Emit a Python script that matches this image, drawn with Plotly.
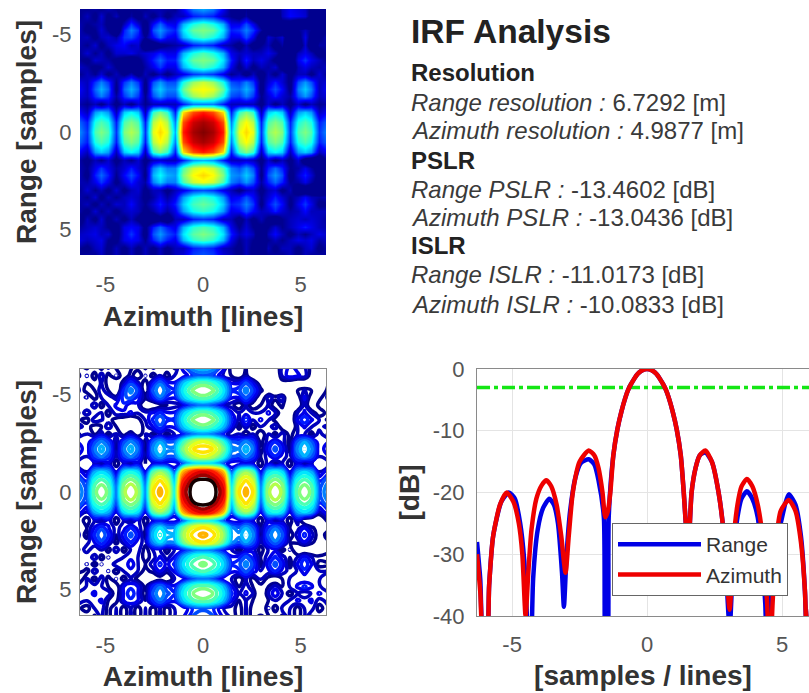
import plotly.graph_objects as go

W, H = 809, 693

nodes = [-6.5,-5.95,-5.55,-5.2,-4.85,-4.45,-4.05,-3.7,-3.35,-2.95,-2.55,-2.2,-1.85,-1.45,-1.0,-0.5,0,
         0.5,1.0,1.45,1.85,2.2,2.55,2.95,3.35,3.7,4.05,4.45,4.85,5.2,5.55,5.95,6.5]

irf_db = [
[-39,-41,-38,-42,-37,-41,-44,-41,-38,-41,-37,-39,-38,-41,-34,-28,-26,-28,-34,-41,-44,-40,-44,-46,-45,-43,-38,-36,-37,-38,-41,-44,-40],
[-41,-38,-41,-37,-41,-38,-42,-39,-42,-38,-41,-38,-41,-38,-38,-34,-33,-34,-38,-40,-42,-39,-44,-46,-46,-45,-38,-35,-36,-37,-42,-45,-41],
[-38,-40,-39,-38,-41,-44,-38,-33,-37,-42,-35,-31,-35,-36,-28,-24,-22,-24,-28,-36,-36,-32,-36,-42,-45,-46,-42,-44,-46,-45,-44,-46,-39],
[-37,-41,-40,-37,-40,-46,-34,-30,-33,-44,-32,-29,-32,-34,-26,-21,-20,-21,-26,-34,-33,-30,-33,-39,-44,-46,-46,-46,-40,-38,-40,-44,-38],
[-39,-38,-41,-38,-37,-39,-33,-32,-35,-40,-35,-31,-35,-36,-28,-24,-22,-24,-28,-36,-36,-32,-36,-44,-37,-39,-37,-46,-42,-36,-42,-41,-37],
[-38,-40,-37,-41,-38,-36,-35,-38,-37,-45,-44,-42,-40,-39,-38,-34,-33,-34,-38,-39,-42,-38,-42,-40,-38,-42,-39,-46,-44,-37,-44,-39,-39],
[-41,-37,-40,-38,-41,-37,-37,-36,-38,-37,-36,-34,-36,-36,-28,-24,-22,-24,-28,-36,-38,-37,-38,-38,-36,-38,-42,-44,-38,-36,-38,-42,-38],
[-39,-41,-37,-38,-39,-41,-42,-45,-41,-38,-34,-31,-34,-34,-26,-21,-20,-21,-26,-34,-39,-34,-38,-36,-38,-41,-42,-45,-36,-33,-36,-38,-41],
[-37,-39,-41,-40,-37,-40,-42,-44,-42,-39,-36,-33,-36,-36,-28,-24,-22,-24,-28,-36,-41,-37,-41,-38,-39,-37,-42,-45,-38,-36,-38,-39,-37],
[-41,-38,-40,-37,-41,-38,-41,-38,-42,-38,-41,-38,-41,-38,-36,-33,-32,-33,-36,-40,-38,-42,-38,-42,-38,-41,-37,-41,-38,-38,-41,-37,-41],
[-36,-38,-33,-30,-33,-40,-33,-30,-33,-41,-32,-29,-32,-32,-24,-19,-17,-19,-24,-32,-33,-30,-33,-41,-37,-34,-37,-41,-32,-29,-32,-38,-36],
[-34,-38,-31,-28,-31,-41,-31,-28,-31,-42,-30,-27,-30,-30,-21,-16,-15,-16,-21,-30,-31,-28,-31,-42,-35,-32,-35,-41,-30,-27,-30,-38,-34],
[-36,-38,-33,-30,-33,-39,-33,-30,-33,-40,-32,-29,-32,-32,-24,-19,-17,-19,-24,-32,-33,-30,-33,-40,-37,-34,-37,-39,-32,-29,-32,-38,-36],
[-38,-40,-38,-41,-37,-41,-38,-41,-37,-40,-38,-38,-38,-38,-34,-30,-30,-30,-34,-38,-38,-38,-38,-41,-37,-41,-38,-41,-37,-41,-38,-40,-38],
[-34,-38,-29,-27,-29,-38,-27,-25,-27,-38,-23,-20,-23,-34,-14,-8,-6,-8,-14,-34,-23,-20,-23,-38,-27,-25,-27,-38,-29,-27,-29,-38,-34],
[-30,-34,-24,-22,-24,-34,-22,-20,-22,-34,-18,-15,-18,-30,-8,-3,-1.5,-3,-8,-30,-18,-15,-18,-34,-22,-20,-22,-34,-24,-22,-24,-34,-30],
[-28,-33,-22,-20,-22,-33,-20,-18,-20,-33,-16,-13.5,-16,-28,-6,-1.5,0,-1.5,-6,-28,-16,-13.5,-16,-33,-20,-18,-20,-33,-22,-20,-22,-33,-28],
[-30,-34,-24,-22,-24,-34,-22,-20,-22,-34,-18,-15,-18,-30,-8,-3,-1.5,-3,-8,-30,-18,-15,-18,-34,-22,-20,-22,-34,-24,-22,-24,-34,-30],
[-34,-38,-29,-27,-29,-38,-27,-25,-27,-38,-23,-20,-23,-34,-14,-8,-6,-8,-14,-34,-23,-20,-23,-38,-27,-25,-27,-38,-29,-27,-29,-38,-34],
[-38,-41,-38,-40,-37,-41,-38,-40,-37,-41,-38,-37,-38,-38,-34,-29,-28,-29,-34,-38,-38,-37,-38,-41,-37,-41,-38,-41,-37,-44,-45,-44,-38],
[-38,-40,-36,-33,-36,-39,-37,-34,-37,-40,-30,-27,-30,-30,-22,-17,-15.5,-17,-22,-30,-32,-29,-32,-40,-34,-31,-34,-40,-39,-36,-39,-42,-40],
[-37,-41,-34,-31,-34,-40,-35,-32,-35,-41,-28,-25,-28,-29,-20,-15,-13.5,-15,-20,-29,-30,-27,-30,-41,-32,-29,-32,-42,-37,-34,-37,-42,-38],
[-38,-39,-36,-33,-36,-41,-37,-34,-37,-39,-30,-27,-30,-30,-22,-17,-15.5,-17,-22,-30,-32,-29,-32,-39,-34,-31,-34,-40,-39,-36,-39,-42,-40],
[-41,-37,-40,-38,-41,-37,-41,-38,-37,-41,-38,-38,-41,-38,-36,-33,-32,-33,-36,-38,-41,-38,-37,-41,-38,-37,-41,-38,-44,-45,-44,-44,-41],
[-38,-40,-37,-41,-38,-40,-38,-37,-38,-41,-39,-36,-39,-36,-29,-24.5,-23,-24.5,-29,-36,-35,-32,-35,-40,-37,-34,-37,-40,-38,-35,-38,-39,-38],
[-40,-38,-41,-38,-40,-37,-38,-35,-38,-40,-37,-34,-37,-34,-27,-22.5,-21,-22.5,-27,-34,-33,-30,-33,-41,-35,-32,-35,-41,-36,-33,-36,-41,-40],
[-38,-41,-37,-40,-38,-41,-38,-37,-38,-41,-39,-36,-39,-36,-29,-24.5,-23,-24.5,-29,-36,-35,-32,-35,-38,-37,-34,-37,-39,-38,-35,-38,-38,-38],
[-44,-38,-41,-37,-41,-38,-41,-38,-41,-44,-44,-42,-44,-38,-38,-34,-33,-34,-38,-38,-42,-38,-41,-38,-41,-44,-40,-38,-37,-38,-37,-38,-40],
[-40,-38,-37,-38,-40,-42,-36,-35,-36,-41,-34,-31,-34,-36,-28,-23.5,-22,-23.5,-28,-36,-40,-37,-40,-41,-40,-37,-40,-38,-36,-34,-36,-38,-39],
[-38,-37,-36,-38,-37,-42,-36,-33,-36,-42,-32,-29,-32,-34,-26,-21.5,-20,-21.5,-26,-34,-38,-36,-38,-45,-38,-35,-38,-41,-38,-40,-38,-36,-38],
[-36,-38,-37,-36,-40,-41,-36,-35,-36,-40,-34,-31,-34,-36,-28,-23.5,-22,-23.5,-28,-36,-40,-38,-40,-41,-40,-38,-40,-38,-36,-37,-36,-39,-37],
[-39,-41,-38,-37,-41,-38,-41,-38,-41,-38,-41,-38,-41,-38,-38,-34,-33,-34,-38,-39,-41,-38,-41,-44,-38,-41,-38,-38,-41,-38,-37,-41,-38],
[-41,-38,-41,-38,-41,-38,-41,-38,-41,-38,-41,-38,-41,-38,-36,-32,-31,-32,-36,-38,-41,-38,-41,-38,-41,-38,-41,-38,-41,-38,-41,-38,-41],
]

az_x = [-6.3,-6.18,-6.05,-5.95,-5.85,-5.7,-5.45,-5.2,-4.95,-4.75,-4.62,-4.5,-4.4,-4.28,-4.1,-3.9,-3.73,-3.55,-3.35,-3.18,-3.02,-2.9,-2.75,-2.5,-2.16,-1.95,-1.8,-1.65,-1.55,-1.45,-1.36,-1.25,-1.1,-0.95,-0.8,-0.7,-0.6,-0.35,-0.15,0,
        0.15,0.35,0.6,0.7,0.8,0.95,1.1,1.25,1.36,1.45,1.52,1.65,1.8,1.95,2.16,2.4,2.65,2.85,3.06,3.2,3.35,3.5,3.7,3.9,4.1,4.3,4.45,4.55,4.65,4.78,4.95,5.25,5.5,5.7,5.85,5.95,6.1,6.3]
az_db = [-30,-36,-45,-45,-35,-27,-22,-20,-21.5,-25,-30,-40,-33,-26,-21,-18.8,-18,-19,-22,-27,-33,-27,-20,-15,-13.2,-14,-16,-20,-24,-23,-20,-14,-9.8,-6.9,-4.6,-3.4,-2.5,-0.8,-0.15,0,
         -0.15,-0.8,-2.5,-3.4,-4.6,-6.9,-9.8,-14,-20,-26,-30,-20,-16,-14,-13.2,-15,-20,-27,-39,-28,-22,-19,-17.8,-19,-22,-28,-38,-48,-38,-28,-23,-21.2,-23,-28,-36,-48,-38,-34]

rng_x = [-6.3,-6.18,-6.05,-5.95,-5.85,-5.7,-5.4,-5.12,-4.9,-4.7,-4.55,-4.4,-4.32,-4.22,-4.05,-3.85,-3.62,-3.45,-3.3,-3.15,-3.08,-2.98,-2.85,-2.65,-2.45,-2.16,-1.95,-1.8,-1.6,-1.52,-1.48,-1.42,-1.25,-1.1,-0.95,-0.8,-0.7,-0.6,-0.35,-0.15,0,
         0.15,0.35,0.6,0.7,0.8,0.95,1.1,1.25,1.36,1.45,1.52,1.65,1.8,1.95,2.16,2.4,2.65,2.85,3.06,3.2,3.35,3.5,3.7,3.9,4.1,4.25,4.38,4.45,4.55,4.7,4.95,5.25,5.5,5.7,5.85,5.95,6.1,6.3]
rng_db = [-28,-34,-45,-45,-35,-27,-21.5,-20,-21,-25,-31,-45,-50,-34,-26,-22.5,-21,-22,-25,-33,-38.5,-30,-23,-17.5,-15.2,-14.6,-15.5,-18,-24,-50,-50,-24,-14,-9.8,-6.9,-4.6,-3.4,-2.5,-0.8,-0.15,0,
          -0.15,-0.8,-2.5,-3.4,-4.6,-6.9,-9.8,-14,-20,-26,-30,-20,-16,-14,-13.5,-15,-20,-27,-42,-30,-24,-21,-19.8,-21,-24,-30,-38,-48,-38,-30,-25,-20.3,-22,-27,-36,-48,-38,-34]

cutoff_x = [-6.3, 6.3]
cutoff_db = [-3, -3]
level_ticks = [0, -10, -20, -30, -40]
lobe_ticks = [-5, 0, 5]

jet = [[0, "rgb(0,0,143)"], [0.125, "rgb(0,0,255)"], [0.375, "rgb(0,255,255)"],
       [0.625, "rgb(255,255,0)"], [0.875, "rgb(255,0,0)"], [1, "rgb(128,0,0)"]]
jet_lines = jet[:-1] + [[0.97, "rgb(128,0,0)"], [1, "rgb(20,0,0)"]]

GREY = "#555555"
TITLE = "#333333"
FONT = "Liberation Sans, Arial, sans-serif"
TITLE_FONT = dict(size=28, color=TITLE, family=FONT)


def dom_x(a, b):
    return [a / W, b / W]


def dom_y(a, b):
    return [1 - b / H, 1 - a / H]


fig = go.Figure()
fig.add_trace(go.Heatmap(x=nodes, y=nodes, z=irf_db, colorscale=jet, zmin=-40, zmax=0,
                         zsmooth="best", showscale=False, xaxis="x", yaxis="y"))
fig.add_trace(go.Contour(x=nodes, y=nodes, z=irf_db, colorscale=jet_lines, zmin=-40, zmax=-3,
                         autocontour=False, contours=dict(coloring="lines", start=-40, end=-3, size=37 / 20),
                         line=dict(width=3.5, smoothing=1.2), showscale=False, xaxis="x2", yaxis="y2"))
fig.add_trace(go.Scatter(x=cutoff_x, y=cutoff_db, mode="lines", showlegend=False, xaxis="x3", yaxis="y3",
                         line=dict(color="#14e614", width=3.5, dash="13px,4px,4px,4px")))
fig.add_trace(go.Scatter(x=rng_x, y=rng_db, mode="lines", name="Range", xaxis="x3", yaxis="y3",
                         line=dict(color="#0000e6", width=4.5, shape="spline", smoothing=0.6)))
fig.add_trace(go.Scatter(x=az_x, y=az_db, mode="lines", name="Azimuth", xaxis="x3", yaxis="y3",
                         line=dict(color="#ee0000", width=4.5, shape="spline", smoothing=0.6)))

common = dict(tickfont=dict(size=22, color=GREY, family=FONT), tickmode="array", zeroline=False, automargin=False)
img_x = dict(common, range=[-6.3, 6.3], tickvals=lobe_ticks, ticktext=["-5", "0", "5"], ticks="outside", ticklen=10,
             tickcolor="rgba(0,0,0,0)", showgrid=False, showline=False,
             title=dict(text="<b>Azimuth [lines]</b>", font=TITLE_FONT, standoff=9))
img_y = dict(common, range=[6.3, -6.3], tickvals=lobe_ticks, ticktext=["-5", "0", "5"], ticks="outside", ticklen=3,
             tickcolor="rgba(0,0,0,0)", showgrid=False, showline=False,
             title=dict(text="<b>Range [samples]</b>", font=TITLE_FONT, standoff=7))
line_border = dict(showline=True, linecolor="#8a8a8a", linewidth=1.2, mirror=True)

fig.update_layout(
    width=W, height=H, autosize=False, margin=dict(l=0, r=0, t=0, b=0),
    paper_bgcolor="white", plot_bgcolor="white", font=dict(family=FONT),
    xaxis=dict(img_x, domain=dom_x(80, 326), anchor="y"),
    yaxis=dict(img_y, domain=dom_y(9, 255), anchor="x"),
    xaxis2=dict(img_x, domain=dom_x(80, 326), anchor="y2", **line_border),
    yaxis2=dict(img_y, domain=dom_y(369, 615), anchor="x2", **line_border),
    xaxis3=dict(common, domain=dom_x(477, 809), anchor="y3", range=[-6.3, 6.0], tickvals=lobe_ticks,
                ticktext=["-5", "0", "5"], ticks="outside", ticklen=8, tickcolor="rgba(0,0,0,0)",
                showgrid=True, gridcolor="#e4e4e4", showline=True, linecolor="#8a8a8a", linewidth=1.2, mirror=True,
                title=dict(text="<b>[samples / lines]</b>", font=TITLE_FONT, standoff=9)),
    yaxis3=dict(common, domain=dom_y(369, 616), anchor="x3", range=[-40, 0], tickvals=level_ticks,
                ticktext=["0", "-10", "-20", "-30", "-40"], ticks="outside", ticklen=7, tickcolor="rgba(0,0,0,0)",
                showgrid=True, gridcolor="#e4e4e4", showline=True, linecolor="#8a8a8a", linewidth=1.2,
                title=dict(text="<b>[dB]</b>", font=TITLE_FONT, standoff=4)),
    legend=dict(x=612 / W, y=1 - 523 / H, xanchor="left", yanchor="top", bgcolor="white",
                bordercolor="#666666", borderwidth=1, itemwidth=83, traceorder="normal",
                font=dict(size=21, color="#333333", family=FONT)),
)

panel_lines = [
    ("<b>IRF Analysis</b>", 33.5, "#222222", 31),
    ("<b>Resolution</b>", 24, "#222222", 72),
    ("<i>Range resolution :</i> 6.7292 [m]", 24, "#3a3a3a", 102),
    ("<i>Azimuth resolution :</i> 4.9877 [m]", 24, "#3a3a3a", 131),
    ("<b>PSLR</b>", 24, "#222222", 160),
    ("<i>Range PSLR :</i> -13.4602 [dB]", 24, "#3a3a3a", 189),
    ("<i>Azimuth PSLR :</i> -13.0436 [dB]", 24, "#3a3a3a", 218),
    ("<b>ISLR</b>", 24, "#222222", 246),
    ("<i>Range ISLR :</i> -11.0173 [dB]", 24, "#3a3a3a", 275),
    ("<i>Azimuth ISLR :</i> -10.0833 [dB]", 24, "#3a3a3a", 304),
]
for text, size, color, ypix in panel_lines:
    fig.add_annotation(text=text, x=408.5 / W, y=1 - ypix / H, xref="paper", yref="paper", xanchor="left",
                       yanchor="middle", showarrow=False, font=dict(size=size, color=color, family=FONT))

fig.write_html("out.html", config=dict(displayModeBar=False),
               post_script="document.body.style.margin='0';document.body.style.overflow='hidden';")
